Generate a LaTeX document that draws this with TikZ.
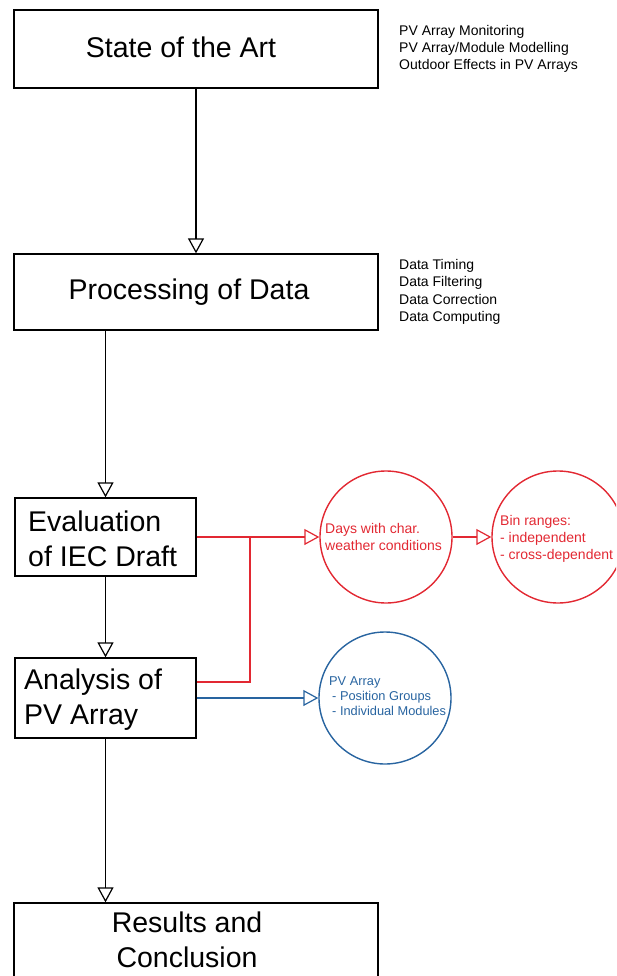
\documentclass[tikz,border=0pt]{standalone}
\usepackage{fontspec}
\setmainfont{Liberation Sans}
\usetikzlibrary{arrows.meta,calc}
\definecolor{myred}{RGB}{226,40,50}
\definecolor{myblue}{RGB}{40,100,160}
\begin{document}
\begin{tikzpicture}[x=1pt,y=-1pt,
  box/.style={draw=black,line width=1.3pt,inner sep=0pt},
  big/.style={font=\fontsize{28.5}{35}\selectfont,inner sep=0pt},
  side/.style={font=\fontsize{14}{17.3}\selectfont,align=left,anchor=west,inner sep=0pt},
  circ/.style={circle,minimum size=132pt,inner sep=0pt,line width=1.4pt},
  tip/.style={-{Triangle[open,length=15pt,width=16pt]}},
  conn/.style={tip,draw=black,line width=1.2pt},
  rconn/.style={tip,draw=myred,line width=1.2pt},
  rline/.style={draw=myred,line width=1.2pt},
  bconn/.style={tip,draw=myblue,line width=1.2pt}]
\useasboundingbox (0,0) rectangle (616,976);
\clip (0,0) rectangle (616,976);
% boxes
\node[box,minimum width=364pt,minimum height=78pt] (b1) at (196,49) {};
\node[big] (t1) at (181,47) {State of the Art};
\node[box,minimum width=364pt,minimum height=76pt] (b2) at (196,292) {};
\node[big] (t2) at (189,292) {Processing of Data};
\node[box,minimum width=181pt,minimum height=78pt] (b3) at (105.5,537) {};
\node[big,align=left,anchor=west] (t3) at (28,539) {Evaluation\\of IEC Draft};
\node[box,minimum width=181pt,minimum height=80pt] (b4) at (105.5,698) {};
\node[big,align=left,anchor=west] (t4) at (24,700) {Analysis of\\PV Array};
\node[box,minimum width=364pt,minimum height=90pt] (b5) at (196,948) {};
\node[big,align=center] (t5) at (187,940) {Results and\\Conclusion};
% side texts
\node[side] (s1) at (399,49) {PV Array Monitoring\\PV Array/Module Modelling\\Outdoor Effects in PV Arrays};
\node[side] (s2) at (399,292) {Data Timing\\Data Filtering\\Data Correction\\Data Computing};
% circles
\node[circ,draw=myred] (c1) at (386,537) {};
\node[side,text=myred] (ct1) at (325,537) {Days with char.\\weather conditions};
\node[circ,draw=myred] (c2) at (558,537) {};
\node[side,text=myred] (ct2) at (500,539) {Bin ranges:\\- independent\\- cross-dependent};
\node[circ,draw=myblue] (c3) at (385,698) {};
\node[side,text=myblue,font=\fontsize{12.8}{14.8}\selectfont] (ct3) at (329,696) {PV Array\\\hspace{3pt}- Position Groups\\\hspace{3pt}- Individual Modules};
% connectors
\draw[conn] (b1.south) -- (b2.north);
\draw[conn] (b3.north |- b2.south) -- (b3.north);
\draw[conn] (b3.south) -- (b4.north);
\draw[conn] (b4.south) -- (b4.south |- b5.north);
\coordinate (j) at (250,537);
\draw[rconn] (b3.east) -- (c1.west);
\draw[rline] ($(b4.east)+(0,-16)$) -| (j);
\draw[bconn] (b4.east) -- (c3.west);
\draw[rconn] (c1.east) -- (c2.west);
\end{tikzpicture}
\end{document}
